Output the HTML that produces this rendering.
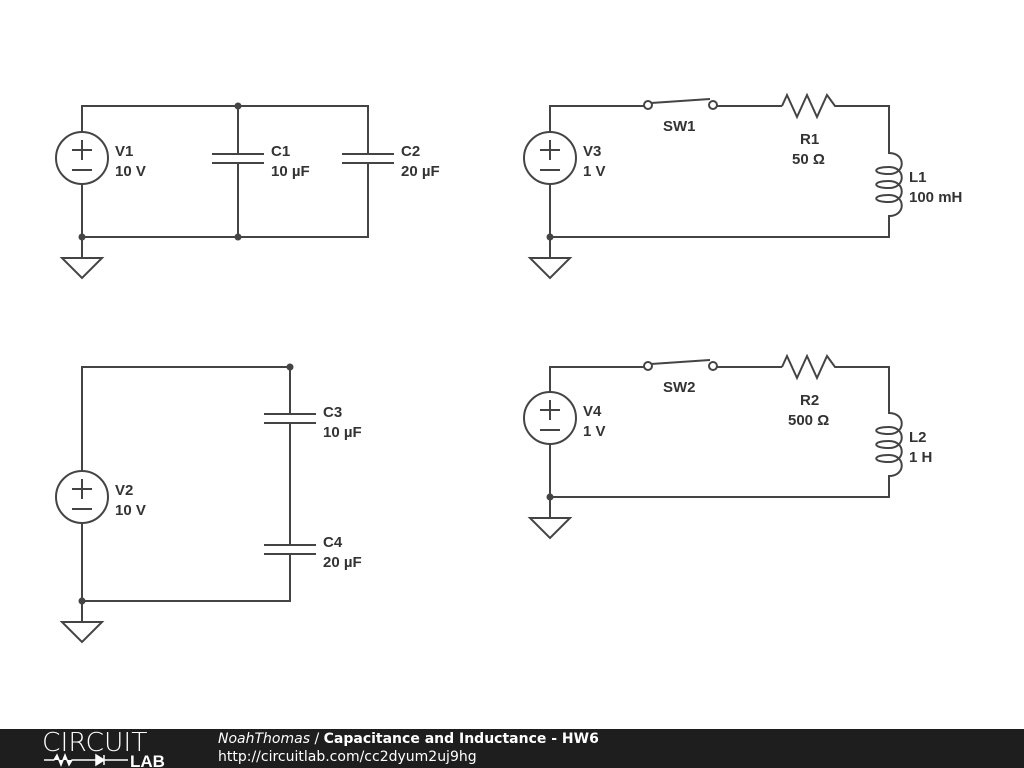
<!DOCTYPE html>
<html><head><meta charset="utf-8"><style>
body{margin:0;width:1024px;height:768px;background:#fff;overflow:hidden;position:relative;font-family:"Liberation Sans",sans-serif}
svg{position:absolute;left:0;top:0}
.f{position:absolute;left:0;top:729px;width:1024px;height:39px;background:#1e1e1e;color:#fff;font-family:"DejaVu Sans","Liberation Sans",sans-serif}
.lbl{fill:#333;font-family:"Liberation Sans",Arial,sans-serif;font-weight:bold;font-size:15px}
</style></head><body>
<svg width="1024" height="729" viewBox="0 0 1024 729">
<defs>
<g id="src"><circle cx="0" cy="0" r="26" fill="#fff" stroke="#444" stroke-width="2"/>
<path d="M-10,-8H10M0,-18V2M-10,12H10" stroke="#444" stroke-width="2" fill="none"/></g>
<g id="gnd"><path d="M0,0V21M-20,21H20L0,41Z" stroke="#444" stroke-width="2" fill="#fff" stroke-linejoin="miter"/></g>
<g id="ind"><path d="M0,0V3 C17,3 17,24 0,24 C-17,24 -17,17 0,17 C17,17 17,38 0,38 C-17,38 -17,31 0,31 C17,31 17,52 0,52 C-17,52 -17,45 0,45 C17,45 17,66 0,66 V72" stroke="#444" stroke-width="2" fill="none"/></g>
</defs>
<g stroke="#444" stroke-width="2" fill="none">
<path d="M82,237V106H368V154M368,163V237H82M238,106V154M238,163V237"/>
<path d="M212,154H264M212,163H264M342,154H394M342,163H394"/>
<path d="M550,237V106H644M717,106H782M840,106H889V150M889,222V237H550"/>
<path d="M782,106L787,95L797,117L807,95L817,117L827,95L835,106H840"/>
<path d="M651,103L710,99"/>
<path d="M82,601V367H290V414M290,423V545M290,554V601H82"/>
<path d="M264,414H316M264,423H316M264,545H316M264,554H316"/>
<path d="M550,497V367H644M717,367H782M840,367H889V410M889,482V497H550"/>
<path d="M782,367L787,356L797,378L807,356L817,378L827,356L835,367H840"/>
<path d="M651,364L710,360"/>
</g>
<g fill="#fff" stroke="#444" stroke-width="2">
<circle cx="648" cy="105" r="4"/><circle cx="713" cy="105" r="4"/>
<circle cx="648" cy="366" r="4"/><circle cx="713" cy="366" r="4"/>
</g>
<use href="#src" x="82" y="158"/><use href="#src" x="550" y="158"/>
<use href="#src" x="82" y="497"/><use href="#src" x="550" y="418"/>
<use href="#gnd" x="82" y="237"/><use href="#gnd" x="550" y="237"/>
<use href="#gnd" x="82" y="601"/><use href="#gnd" x="550" y="497"/>
<use href="#ind" x="889" y="150"/><use href="#ind" x="889" y="410"/>
<g fill="#444">
<circle cx="238" cy="106" r="3.5"/><circle cx="238" cy="237" r="3.5"/><circle cx="82" cy="237" r="3.5"/>
<circle cx="550" cy="237" r="3.5"/><circle cx="290" cy="367" r="3.5"/><circle cx="82" cy="601" r="3.5"/><circle cx="550" cy="497" r="3.5"/>
</g>
<g class="lbl">
<text x="115" y="156">V1</text><text x="115" y="176">10 V</text>
<text x="271" y="156">C1</text><text x="271" y="176">10 µF</text>
<text x="401" y="156">C2</text><text x="401" y="176">20 µF</text>
<text x="583" y="156">V3</text><text x="583" y="176">1 V</text>
<text x="663" y="131">SW1</text>
<text x="800" y="144">R1</text><text x="792" y="164">50 Ω</text>
<text x="909" y="182">L1</text><text x="909" y="202">100 mH</text>
<text x="323" y="417">C3</text><text x="323" y="437">10 µF</text>
<text x="115" y="495">V2</text><text x="115" y="515">10 V</text>
<text x="323" y="547">C4</text><text x="323" y="567">20 µF</text>
<text x="583" y="416">V4</text><text x="583" y="436">1 V</text>
<text x="663" y="392">SW2</text>
<text x="800" y="405">R2</text><text x="788" y="425">500 Ω</text>
<text x="909" y="442">L2</text><text x="909" y="462">1 H</text>
</g>
</svg>
<div class="f">
<div style="position:absolute;left:42px;top:-1px;font-size:26px;font-weight:200;font-family:'DejaVu Sans',sans-serif;transform:scaleX(1.02);transform-origin:left">CIRCUIT</div>
<svg style="top:24px;left:44px" width="130" height="14"><path d="M0,7H10L13,2L17,12L21,2L25,12L28,7H52M52,2V12L60,7Z M60,2V12M60,7H84" stroke="#fff" stroke-width="1.5" fill="#fff"/><text x="86" y="14" fill="#fff" font-family="Liberation Sans" font-weight="bold" font-size="17">LAB</text></svg>
<div style="position:absolute;left:218px;top:2px;font-size:14px"><i>NoahThomas</i> / <b>Capacitance and Inductance - HW6</b></div>
<div style="position:absolute;left:218px;top:20px;font-size:14px">http://circuitlab.com/cc2dyum2uj9hg</div>
</div>
</body></html>
